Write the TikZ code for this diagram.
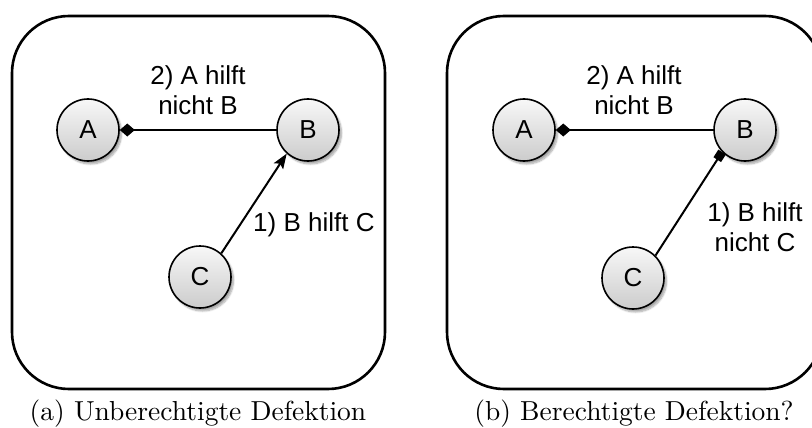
\documentclass[tikz,border=0pt]{standalone}
\usepackage{fontspec}
\newfontfamily\labelfont{Liberation Sans}
\newfontfamily\capfont{lmroman10-regular.otf}
\usetikzlibrary{arrows.meta,shadows.blur}

\tikzset{
  panel/.style={draw=black, line width=2.6pt, rounded corners=57pt},
  agent/.style={circle, draw=black, line width=1.6pt, minimum size=62pt, inner sep=0pt,
    top color=gray!6, bottom color=gray!40,
    blur shadow={shadow xshift=2.5pt, shadow yshift=-3pt, shadow blur steps=8, shadow opacity=35},
    font=\labelfont\fontsize{26}{28}\selectfont},
  relation/.style={draw=black, line width=2pt},
  relabel/.style={font=\labelfont\fontsize{26}{30}\selectfont, align=center, inner sep=0pt},
  caption/.style={font=\capfont\fontsize{27.5}{32}\selectfont, inner sep=0pt, anchor=base},
  defect/.style={-{Diamond[length=15pt,width=13pt]}},
  refuse/.style={-{Square[length=9pt,width=9pt]}},
  help/.style={-{Stealth[length=15pt,width=11pt,inset=3pt]}},
}

\begin{document}
\begin{tikzpicture}[x=1pt,y=-1pt]
  \useasboundingbox (0,0) rectangle (812,428);
  \clip (0,0) rectangle (812,428);

  % left panel: (a)
  \draw[panel] (12,16) rectangle (385,389);
  \node[agent] (aA) at (88,130) {A};
  \node[agent] (aB) at (308,130) {B};
  \node[agent] (aC) at (200,277) {C};
  \draw[relation,defect] (aB.west) -- (aA.east);
  \draw[relation,help] (aC.48) -- (aB.228);
  \node[relabel] (aAB) at (198,90) {2) A hilft\\nicht B};
  \node[relabel, anchor=west] (aCB) at (253,225) {1) B hilft C};
  \node[caption] (capA) at (198,420) {(a) Unberechtigte Defektion};

  % right panel: (b)
  \draw[panel] (447,16) rectangle (822,389);
  \node[agent] (bA) at (524,130) {A};
  \node[agent] (bB) at (745,130) {B};
  \node[agent] (bC) at (633,278) {C};
  \draw[relation,defect] (bB.west) -- (bA.east);
  \draw[relation,refuse] (bC.45) -- (bB.224);
  \node[relabel] (bAB) at (634,90) {2) A hilft\\nicht B};
  \node[relabel] (bCB) at (755,227) {1) B hilft\\nicht C};
  \node[caption] (capB) at (634,420) {(b) Berechtigte Defektion?};
\end{tikzpicture}
\end{document}
